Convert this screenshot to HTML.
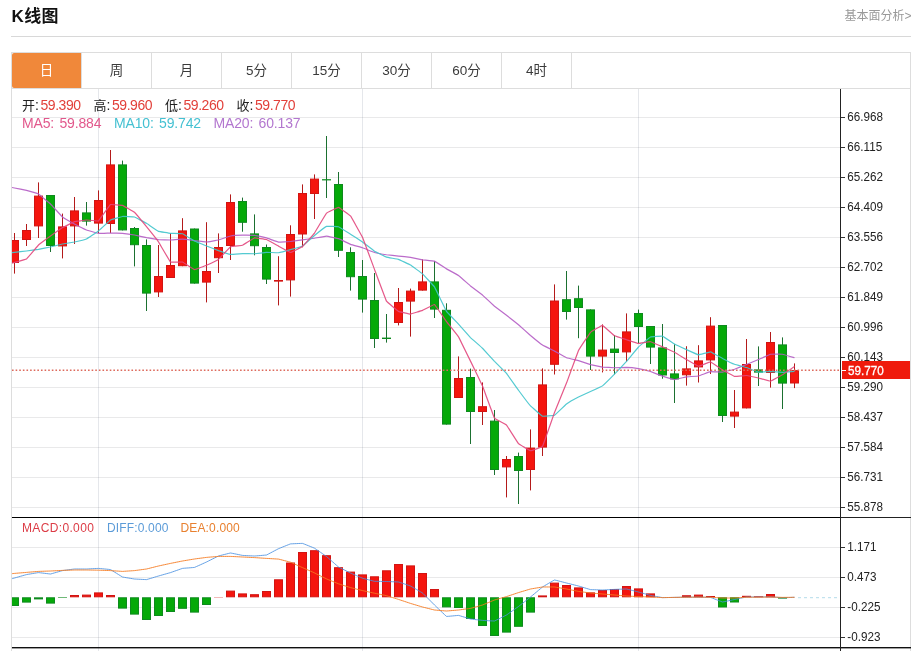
<!DOCTYPE html>
<html lang="zh-CN"><head><meta charset="utf-8"><title>K线图</title>
<style>
html,body{margin:0;padding:0;background:#fff;}
body{width:917px;height:651px;position:relative;overflow:hidden;font-family:"Liberation Sans","Noto Sans CJK SC",sans-serif;color:#333;}
.title{position:absolute;left:11.5px;top:4.5px;font-size:17px;font-weight:bold;color:#111;line-height:24px;letter-spacing:0.4px;}
.more{position:absolute;right:5.5px;top:7.5px;font-size:12px;color:#999;line-height:16px;}
.hr{position:absolute;left:11px;top:36px;width:900px;height:1px;background:#d8d8d8;}
.box{position:absolute;left:11px;top:52px;width:898px;height:610px;border:1px solid #ddd;border-bottom:none;}
.tabs{position:absolute;left:0;top:0;width:898px;height:35px;border-bottom:1px solid #ddd;}
.tab{position:absolute;top:0;width:69px;height:35px;border-right:1px solid #ddd;text-align:center;line-height:36px;font-size:13.5px;color:#3a3a3a;}
.tab.on{background:#f0883a;color:#fff;border-radius:2px 0 0 2px;}
.t{position:absolute;white-space:nowrap;}
.r1{top:96px;font-size:14px;line-height:18px;color:#222;}
.r1 b{font-weight:normal;color:#e2403a;letter-spacing:-0.45px;margin-left:1.6px;}
.r1 i{font-style:normal;font-size:13px;}
.r2{top:114px;font-size:14px;line-height:18px;letter-spacing:-0.15px;word-spacing:1.6px;}
.r3{top:520px;font-size:12px;line-height:16px;letter-spacing:0.35px;}
</style></head><body>
<div class="title">K线图</div>
<div class="more">基本面分析&gt;</div>
<div class="hr"></div>
<div class="box"><div class="tabs">
<div class="tab on" style="left:0">日</div><div class="tab" style="left:70px">周</div><div class="tab" style="left:140px">月</div><div class="tab" style="left:210px">5分</div><div class="tab" style="left:280px">15分</div><div class="tab" style="left:350px">30分</div><div class="tab" style="left:420px">60分</div><div class="tab" style="left:490px">4时</div>
</div></div>
<svg width="917" height="651" viewBox="0 0 917 651" style="position:absolute;left:0;top:0">
<defs><clipPath id="cp"><rect x="12" y="89" width="828" height="558"/></clipPath></defs>
<rect x="12" y="117" width="828" height="1" fill="#58585c" fill-opacity="0.13"/><rect x="12" y="147" width="828" height="1" fill="#58585c" fill-opacity="0.13"/><rect x="12" y="177" width="828" height="1" fill="#58585c" fill-opacity="0.13"/><rect x="12" y="207" width="828" height="1" fill="#58585c" fill-opacity="0.13"/><rect x="12" y="237" width="828" height="1" fill="#58585c" fill-opacity="0.13"/><rect x="12" y="267" width="828" height="1" fill="#58585c" fill-opacity="0.13"/><rect x="12" y="297" width="828" height="1" fill="#58585c" fill-opacity="0.13"/><rect x="12" y="327" width="828" height="1" fill="#58585c" fill-opacity="0.13"/><rect x="12" y="357" width="828" height="1" fill="#58585c" fill-opacity="0.13"/><rect x="12" y="387" width="828" height="1" fill="#58585c" fill-opacity="0.13"/><rect x="12" y="417" width="828" height="1" fill="#58585c" fill-opacity="0.13"/><rect x="12" y="447" width="828" height="1" fill="#58585c" fill-opacity="0.13"/><rect x="12" y="477" width="828" height="1" fill="#58585c" fill-opacity="0.13"/><rect x="12" y="507" width="828" height="1" fill="#58585c" fill-opacity="0.13"/><rect x="12" y="547" width="828" height="1" fill="#58585c" fill-opacity="0.13"/><rect x="12" y="577" width="828" height="1" fill="#58585c" fill-opacity="0.13"/><rect x="12" y="607" width="828" height="1" fill="#58585c" fill-opacity="0.13"/><rect x="12" y="637" width="828" height="1" fill="#58585c" fill-opacity="0.13"/><rect x="98" y="89" width="1" height="562" fill="#4a5570" fill-opacity="0.14"/><rect x="362" y="89" width="1" height="562" fill="#4a5570" fill-opacity="0.14"/><rect x="638" y="89" width="1" height="562" fill="#4a5570" fill-opacity="0.14"/>
<g clip-path="url(#cp)"><rect x="14" y="233.0" width="1" height="40.6" fill="#b41a1a"/><rect x="10.5" y="240.5" width="8" height="22.0" fill="#f4150e" stroke="#d21412" stroke-width="1"/><rect x="26" y="224.0" width="1" height="22.0" fill="#b41a1a"/><rect x="22.5" y="230.5" width="8" height="9.0" fill="#f4150e" stroke="#d21412" stroke-width="1"/><rect x="38" y="182.4" width="1" height="55.6" fill="#b41a1a"/><rect x="34.5" y="196.1" width="8" height="29.8" fill="#f4150e" stroke="#d21412" stroke-width="1"/><rect x="50" y="195.0" width="1" height="57.0" fill="#1b7030"/><rect x="46.5" y="195.5" width="8" height="50.0" fill="#05a909" stroke="#0e8a1e" stroke-width="1"/><rect x="62" y="213.6" width="1" height="44.8" fill="#b41a1a"/><rect x="58.5" y="226.9" width="8" height="19.0" fill="#f4150e" stroke="#d21412" stroke-width="1"/><rect x="74" y="197.0" width="1" height="47.0" fill="#b41a1a"/><rect x="70.5" y="210.9" width="8" height="15.0" fill="#f4150e" stroke="#d21412" stroke-width="1"/><rect x="86" y="202.0" width="1" height="23.6" fill="#1b7030"/><rect x="82.5" y="212.9" width="8" height="8.2" fill="#05a909" stroke="#0e8a1e" stroke-width="1"/><rect x="98" y="190.4" width="1" height="42.6" fill="#b41a1a"/><rect x="94.5" y="200.5" width="8" height="22.6" fill="#f4150e" stroke="#d21412" stroke-width="1"/><rect x="110" y="150.0" width="1" height="83.0" fill="#b41a1a"/><rect x="106.5" y="164.9" width="8" height="58.6" fill="#f4150e" stroke="#d21412" stroke-width="1"/><rect x="122" y="160.6" width="1" height="69.8" fill="#1b7030"/><rect x="118.5" y="164.9" width="8" height="65.0" fill="#05a909" stroke="#0e8a1e" stroke-width="1"/><rect x="134" y="227.0" width="1" height="39.4" fill="#1b7030"/><rect x="130.5" y="228.5" width="8" height="16.2" fill="#05a909" stroke="#0e8a1e" stroke-width="1"/><rect x="146" y="239.4" width="1" height="71.6" fill="#1b7030"/><rect x="142.5" y="245.5" width="8" height="47.6" fill="#05a909" stroke="#0e8a1e" stroke-width="1"/><rect x="158" y="245.0" width="1" height="52.0" fill="#b41a1a"/><rect x="154.5" y="276.5" width="8" height="15.4" fill="#f4150e" stroke="#d21412" stroke-width="1"/><rect x="170" y="233.0" width="1" height="45.0" fill="#b41a1a"/><rect x="166.5" y="265.5" width="8" height="12.0" fill="#f4150e" stroke="#d21412" stroke-width="1"/><rect x="182" y="218.2" width="1" height="48.0" fill="#b41a1a"/><rect x="178.5" y="230.9" width="8" height="34.8" fill="#f4150e" stroke="#d21412" stroke-width="1"/><rect x="194" y="228.5" width="1" height="55.1" fill="#1b7030"/><rect x="190.5" y="229.0" width="8" height="54.1" fill="#05a909" stroke="#0e8a1e" stroke-width="1"/><rect x="206" y="222.2" width="1" height="80.2" fill="#b41a1a"/><rect x="202.5" y="271.5" width="8" height="10.6" fill="#f4150e" stroke="#d21412" stroke-width="1"/><rect x="218" y="233.4" width="1" height="39.6" fill="#b41a1a"/><rect x="214.5" y="247.5" width="8" height="10.2" fill="#f4150e" stroke="#d21412" stroke-width="1"/><rect x="230" y="194.4" width="1" height="65.6" fill="#b41a1a"/><rect x="226.5" y="202.5" width="8" height="43.0" fill="#f4150e" stroke="#d21412" stroke-width="1"/><rect x="242" y="197.6" width="1" height="34.1" fill="#1b7030"/><rect x="238.5" y="201.5" width="8" height="20.8" fill="#05a909" stroke="#0e8a1e" stroke-width="1"/><rect x="254" y="214.4" width="1" height="40.9" fill="#1b7030"/><rect x="250.5" y="233.9" width="8" height="11.8" fill="#05a909" stroke="#0e8a1e" stroke-width="1"/><rect x="266" y="244.5" width="1" height="39.5" fill="#1b7030"/><rect x="262.5" y="247.5" width="8" height="31.6" fill="#05a909" stroke="#0e8a1e" stroke-width="1"/><rect x="278" y="256.2" width="1" height="49.2" fill="#b41a1a"/><rect x="274.5" y="280.5" width="8" height="0.6" fill="#f4150e" stroke="#d21412" stroke-width="1"/><rect x="290" y="225.3" width="1" height="71.3" fill="#b41a1a"/><rect x="286.5" y="234.5" width="8" height="45.4" fill="#f4150e" stroke="#d21412" stroke-width="1"/><rect x="302" y="184.4" width="1" height="62.9" fill="#b41a1a"/><rect x="298.5" y="193.5" width="8" height="40.5" fill="#f4150e" stroke="#d21412" stroke-width="1"/><rect x="314" y="174.4" width="1" height="44.6" fill="#b41a1a"/><rect x="310.5" y="179.1" width="8" height="14.4" fill="#f4150e" stroke="#d21412" stroke-width="1"/><rect x="326" y="136.0" width="1" height="62.0" fill="#1b7030"/><rect x="322.5" y="179.7" width="8" height="0.2" fill="#05a909" stroke="#0e8a1e" stroke-width="1"/><rect x="338" y="172.0" width="1" height="85.0" fill="#1b7030"/><rect x="334.5" y="184.5" width="8" height="65.8" fill="#05a909" stroke="#0e8a1e" stroke-width="1"/><rect x="350" y="247.3" width="1" height="43.3" fill="#1b7030"/><rect x="346.5" y="252.5" width="8" height="24.2" fill="#05a909" stroke="#0e8a1e" stroke-width="1"/><rect x="362" y="260.0" width="1" height="52.6" fill="#1b7030"/><rect x="358.5" y="276.5" width="8" height="22.6" fill="#05a909" stroke="#0e8a1e" stroke-width="1"/><rect x="374" y="273.0" width="1" height="75.0" fill="#1b7030"/><rect x="370.5" y="300.5" width="8" height="38.0" fill="#05a909" stroke="#0e8a1e" stroke-width="1"/><rect x="386" y="314.0" width="1" height="28.6" fill="#1b7030"/><rect x="382.5" y="338.1" width="8" height="0.4" fill="#05a909" stroke="#0e8a1e" stroke-width="1"/><rect x="398" y="288.0" width="1" height="37.4" fill="#b41a1a"/><rect x="394.5" y="302.5" width="8" height="20.0" fill="#f4150e" stroke="#d21412" stroke-width="1"/><rect x="410" y="288.6" width="1" height="48.0" fill="#b41a1a"/><rect x="406.5" y="291.1" width="8" height="10.0" fill="#f4150e" stroke="#d21412" stroke-width="1"/><rect x="422" y="259.4" width="1" height="31.2" fill="#b41a1a"/><rect x="418.5" y="281.9" width="8" height="8.2" fill="#f4150e" stroke="#d21412" stroke-width="1"/><rect x="434" y="261.0" width="1" height="57.0" fill="#1b7030"/><rect x="430.5" y="281.9" width="8" height="27.2" fill="#05a909" stroke="#0e8a1e" stroke-width="1"/><rect x="446" y="303.3" width="1" height="121.3" fill="#1b7030"/><rect x="442.5" y="310.3" width="8" height="113.8" fill="#05a909" stroke="#0e8a1e" stroke-width="1"/><rect x="458" y="356.4" width="1" height="41.6" fill="#b41a1a"/><rect x="454.5" y="378.5" width="8" height="19.0" fill="#f4150e" stroke="#d21412" stroke-width="1"/><rect x="470" y="368.6" width="1" height="75.4" fill="#1b7030"/><rect x="466.5" y="377.5" width="8" height="34.0" fill="#05a909" stroke="#0e8a1e" stroke-width="1"/><rect x="482" y="382.4" width="1" height="42.6" fill="#b41a1a"/><rect x="478.5" y="406.7" width="8" height="4.8" fill="#f4150e" stroke="#d21412" stroke-width="1"/><rect x="494" y="410.0" width="1" height="65.0" fill="#1b7030"/><rect x="490.5" y="421.1" width="8" height="48.4" fill="#05a909" stroke="#0e8a1e" stroke-width="1"/><rect x="506" y="456.0" width="1" height="41.4" fill="#b41a1a"/><rect x="502.5" y="459.5" width="8" height="7.4" fill="#f4150e" stroke="#d21412" stroke-width="1"/><rect x="518" y="452.6" width="1" height="51.4" fill="#1b7030"/><rect x="514.5" y="456.5" width="8" height="14.0" fill="#05a909" stroke="#0e8a1e" stroke-width="1"/><rect x="530" y="429.4" width="1" height="61.0" fill="#b41a1a"/><rect x="526.5" y="448.1" width="8" height="21.4" fill="#f4150e" stroke="#d21412" stroke-width="1"/><rect x="542" y="368.4" width="1" height="87.6" fill="#b41a1a"/><rect x="538.5" y="384.9" width="8" height="62.2" fill="#f4150e" stroke="#d21412" stroke-width="1"/><rect x="554" y="284.4" width="1" height="90.1" fill="#b41a1a"/><rect x="550.5" y="301.0" width="8" height="63.3" fill="#f4150e" stroke="#d21412" stroke-width="1"/><rect x="566" y="271.0" width="1" height="48.6" fill="#1b7030"/><rect x="562.5" y="299.7" width="8" height="11.8" fill="#05a909" stroke="#0e8a1e" stroke-width="1"/><rect x="578" y="285.6" width="1" height="52.6" fill="#1b7030"/><rect x="574.5" y="298.7" width="8" height="8.8" fill="#05a909" stroke="#0e8a1e" stroke-width="1"/><rect x="590" y="309.4" width="1" height="60.6" fill="#1b7030"/><rect x="586.5" y="309.9" width="8" height="46.2" fill="#05a909" stroke="#0e8a1e" stroke-width="1"/><rect x="602" y="324.4" width="1" height="48.0" fill="#b41a1a"/><rect x="598.5" y="350.1" width="8" height="6.0" fill="#f4150e" stroke="#d21412" stroke-width="1"/><rect x="614" y="335.0" width="1" height="39.4" fill="#1b7030"/><rect x="610.5" y="349.1" width="8" height="3.4" fill="#05a909" stroke="#0e8a1e" stroke-width="1"/><rect x="626" y="313.4" width="1" height="48.2" fill="#b41a1a"/><rect x="622.5" y="331.9" width="8" height="20.0" fill="#f4150e" stroke="#d21412" stroke-width="1"/><rect x="638" y="309.6" width="1" height="34.0" fill="#1b7030"/><rect x="634.5" y="313.5" width="8" height="13.0" fill="#05a909" stroke="#0e8a1e" stroke-width="1"/><rect x="650" y="326.0" width="1" height="38.0" fill="#1b7030"/><rect x="646.5" y="326.5" width="8" height="20.6" fill="#05a909" stroke="#0e8a1e" stroke-width="1"/><rect x="662" y="324.0" width="1" height="54.7" fill="#1b7030"/><rect x="658.5" y="347.9" width="8" height="27.1" fill="#05a909" stroke="#0e8a1e" stroke-width="1"/><rect x="674" y="344.2" width="1" height="58.8" fill="#1b7030"/><rect x="670.5" y="373.9" width="8" height="5.0" fill="#05a909" stroke="#0e8a1e" stroke-width="1"/><rect x="686" y="346.2" width="1" height="39.4" fill="#b41a1a"/><rect x="682.5" y="368.9" width="8" height="5.9" fill="#f4150e" stroke="#d21412" stroke-width="1"/><rect x="698" y="345.2" width="1" height="37.3" fill="#b41a1a"/><rect x="694.5" y="360.9" width="8" height="6.0" fill="#f4150e" stroke="#d21412" stroke-width="1"/><rect x="710" y="317.2" width="1" height="56.8" fill="#b41a1a"/><rect x="706.5" y="326.1" width="8" height="33.8" fill="#f4150e" stroke="#d21412" stroke-width="1"/><rect x="722" y="325.0" width="1" height="97.0" fill="#1b7030"/><rect x="718.5" y="325.5" width="8" height="90.0" fill="#05a909" stroke="#0e8a1e" stroke-width="1"/><rect x="734" y="390.0" width="1" height="38.0" fill="#b41a1a"/><rect x="730.5" y="412.1" width="8" height="4.0" fill="#f4150e" stroke="#d21412" stroke-width="1"/><rect x="746" y="339.0" width="1" height="69.4" fill="#b41a1a"/><rect x="742.5" y="364.5" width="8" height="43.4" fill="#f4150e" stroke="#d21412" stroke-width="1"/><rect x="758" y="346.4" width="1" height="39.6" fill="#1b7030"/><rect x="754.5" y="369.9" width="8" height="2.2" fill="#05a909" stroke="#0e8a1e" stroke-width="1"/><rect x="770" y="332.0" width="1" height="55.6" fill="#b41a1a"/><rect x="766.5" y="342.5" width="8" height="30.0" fill="#f4150e" stroke="#d21412" stroke-width="1"/><rect x="782" y="337.4" width="1" height="71.6" fill="#1b7030"/><rect x="778.5" y="344.9" width="8" height="38.2" fill="#05a909" stroke="#0e8a1e" stroke-width="1"/><rect x="794" y="363.4" width="1" height="24.7" fill="#b41a1a"/><rect x="790.5" y="370.6" width="8" height="12.4" fill="#f4150e" stroke="#d21412" stroke-width="1"/></g>
<g clip-path="url(#cp)">
<path d="M2.50,185.60C2.74,185.65 14.02,187.90 14.50,188.00C14.98,188.10 26.02,190.28 26.50,190.40C26.98,190.52 38.02,193.73 38.50,194.00C38.98,194.27 50.02,203.54 50.50,204.00C50.98,204.46 62.02,216.60 62.50,217.00C62.98,217.40 74.02,223.74 74.50,224.00C74.98,224.26 86.02,229.81 86.50,230.00C86.98,230.19 98.02,233.34 98.50,233.40C98.98,233.46 110.02,233.00 110.50,233.00C110.98,233.00 122.02,233.36 122.50,233.40C122.98,233.44 134.02,234.92 134.50,235.00C134.98,235.08 146.02,237.51 146.50,237.60C146.98,237.69 158.02,239.55 158.50,239.60C158.98,239.65 170.02,240.01 170.50,240.00C170.98,239.99 182.02,239.19 182.50,239.20C182.98,239.21 194.02,240.54 194.50,240.60C194.98,240.66 206.02,242.01 206.50,242.00C206.98,241.99 218.02,240.12 218.50,240.00C218.98,239.88 230.02,236.10 230.50,236.00C230.98,235.90 242.02,235.08 242.50,235.07C242.98,235.06 254.02,235.32 254.50,235.38C254.98,235.44 266.02,237.73 266.50,237.86C266.98,237.99 278.02,242.01 278.50,242.08C278.98,242.15 290.02,241.53 290.50,241.48C290.98,241.43 302.02,239.88 302.50,239.81C302.98,239.74 314.02,238.29 314.50,238.22C314.98,238.15 326.02,236.14 326.50,236.15C326.98,236.16 338.02,238.53 338.50,238.69C338.98,238.85 350.02,244.15 350.50,244.33C350.98,244.51 362.02,247.63 362.50,247.79C362.98,247.95 374.02,252.34 374.50,252.48C374.98,252.62 386.02,254.68 386.50,254.75C386.98,254.82 398.02,256.00 398.50,256.05C398.98,256.10 410.02,257.25 410.50,257.33C410.98,257.41 422.02,259.80 422.50,259.88C422.98,259.96 434.02,261.00 434.50,261.18C434.98,261.36 446.02,268.58 446.50,268.86C446.98,269.14 458.02,275.07 458.50,275.41C458.98,275.75 470.02,285.52 470.50,285.91C470.98,286.30 482.02,294.67 482.50,295.08C482.98,295.49 494.02,305.87 494.50,306.27C494.98,306.67 506.02,314.87 506.50,315.24C506.98,315.61 518.02,324.39 518.50,324.79C518.98,325.19 530.02,335.06 530.50,335.47C530.98,335.87 542.02,344.73 542.50,345.04C542.98,345.35 554.02,350.88 554.50,351.13C554.98,351.39 566.02,357.54 566.50,357.73C566.98,357.91 578.02,360.45 578.50,360.58C578.98,360.72 590.02,364.43 590.50,364.56C590.98,364.68 602.02,366.99 602.50,367.06C602.98,367.12 614.02,367.75 614.50,367.75C614.98,367.76 626.02,367.36 626.50,367.38C626.98,367.39 638.02,368.54 638.50,368.62C638.98,368.71 650.02,371.32 650.50,371.48C650.98,371.63 662.02,376.02 662.50,376.18C662.98,376.34 674.02,379.66 674.50,379.67C674.98,379.68 686.02,376.93 686.50,376.86C686.98,376.79 698.02,376.08 698.50,375.98C698.98,375.88 710.02,371.74 710.50,371.66C710.98,371.58 722.02,372.20 722.50,372.15C722.98,372.10 734.02,369.38 734.50,369.23C734.98,369.08 746.02,364.67 746.50,364.48C746.98,364.29 758.02,359.76 758.50,359.56C758.98,359.36 770.02,354.39 770.50,354.28C770.98,354.17 782.02,354.17 782.50,354.24C782.98,354.31 794.26,357.65 794.50,357.72" fill="none" stroke="#b45cc4" stroke-width="1.2" stroke-opacity="0.9" stroke-linejoin="round"/>
<path d="M2.50,253.80C2.74,253.77 14.02,252.46 14.50,252.40C14.98,252.34 26.02,251.06 26.50,251.00C26.98,250.94 38.02,249.48 38.50,249.40C38.98,249.32 50.02,247.11 50.50,247.00C50.98,246.89 62.02,244.10 62.50,244.00C62.98,243.90 74.02,242.10 74.50,242.00C74.98,241.90 86.02,239.22 86.50,239.00C86.98,238.78 98.02,231.38 98.50,231.00C98.98,230.62 110.02,220.29 110.50,220.00C110.98,219.71 122.02,216.54 122.50,216.48C122.98,216.42 134.02,216.86 134.50,217.00C134.98,217.14 146.02,223.07 146.50,223.36C146.98,223.65 158.02,231.20 158.50,231.40C158.98,231.60 170.02,233.25 170.50,233.30C170.98,233.35 182.02,233.55 182.50,233.70C182.98,233.85 194.02,240.77 194.50,241.02C194.98,241.27 206.02,245.77 206.50,245.96C206.98,246.15 218.02,250.49 218.50,250.66C218.98,250.83 230.02,254.36 230.50,254.42C230.98,254.48 242.02,253.67 242.50,253.66C242.98,253.65 254.02,253.79 254.50,253.76C254.98,253.73 266.02,252.38 266.50,252.36C266.98,252.34 278.02,252.81 278.50,252.76C278.98,252.71 290.02,249.80 290.50,249.66C290.98,249.52 302.02,246.20 302.50,245.92C302.98,245.64 314.02,235.81 314.50,235.42C314.98,235.03 326.02,226.51 326.50,226.34C326.98,226.17 338.02,226.56 338.50,226.72C338.98,226.88 350.02,233.94 350.50,234.24C350.98,234.54 362.02,241.58 362.50,241.92C362.98,242.26 374.02,250.90 374.50,251.20C374.98,251.50 386.02,256.98 386.50,257.14C386.98,257.30 398.02,259.18 398.50,259.34C398.98,259.50 410.02,264.71 410.50,265.00C410.98,265.29 422.02,273.40 422.50,273.84C422.98,274.28 434.02,286.19 434.50,286.94C434.98,287.69 446.02,310.64 446.50,311.38C446.98,312.12 458.02,323.58 458.50,324.10C458.98,324.62 470.02,337.10 470.50,337.58C470.98,338.06 482.02,347.76 482.50,348.24C482.98,348.72 494.02,360.84 494.50,361.34C494.98,361.84 506.02,372.76 506.50,373.34C506.98,373.92 518.02,389.59 518.50,390.24C518.98,390.89 530.02,405.42 530.50,405.94C530.98,406.46 542.02,416.05 542.50,416.24C542.98,416.43 554.02,415.57 554.50,415.33C554.98,415.09 566.02,404.44 566.50,404.07C566.98,403.70 578.02,397.32 578.50,397.07C578.98,396.82 590.02,391.75 590.50,391.53C590.98,391.31 602.02,386.22 602.50,385.87C602.98,385.52 614.02,374.66 614.50,374.17C614.98,373.68 626.02,361.95 626.50,361.41C626.98,360.87 638.02,347.50 638.50,347.01C638.98,346.52 650.02,337.23 650.50,337.01C650.98,336.79 662.02,335.98 662.50,336.12C662.98,336.26 674.02,343.74 674.50,344.01C674.98,344.28 686.02,349.43 686.50,349.65C686.98,349.87 698.02,354.85 698.50,354.89C698.98,354.93 710.02,351.72 710.50,351.79C710.98,351.86 722.02,358.18 722.50,358.43C722.98,358.68 734.02,364.11 734.50,364.29C734.98,364.47 746.02,367.39 746.50,367.55C746.98,367.71 758.02,372.03 758.50,372.11C758.98,372.19 770.02,371.55 770.50,371.55C770.98,371.56 782.02,372.36 782.50,372.36C782.98,372.36 794.26,371.45 794.50,371.43" fill="none" stroke="#40c4cc" stroke-width="1.2" stroke-opacity="0.9" stroke-linejoin="round"/>
<path d="M2.50,265.80C2.74,265.73 14.02,262.54 14.50,262.40C14.98,262.26 26.02,259.35 26.50,259.00C26.98,258.65 38.02,245.46 38.50,245.00C38.98,244.54 50.02,236.35 50.50,236.00C50.98,235.65 62.02,227.89 62.50,227.60C62.98,227.31 74.02,221.83 74.50,221.68C74.98,221.53 86.02,220.02 86.50,220.00C86.98,219.98 98.02,221.19 98.50,220.88C98.98,220.57 110.02,204.87 110.50,204.56C110.98,204.25 122.02,205.20 122.50,205.36C122.98,205.52 134.02,211.89 134.50,212.32C134.98,212.75 146.02,226.13 146.50,226.72C146.98,227.31 158.02,241.21 158.50,241.92C158.98,242.63 170.02,261.64 170.50,262.04C170.98,262.44 182.02,261.89 182.50,262.04C182.98,262.19 194.02,269.66 194.50,269.72C194.98,269.78 206.02,265.41 206.50,265.20C206.98,264.99 218.02,259.77 218.50,259.40C218.98,259.03 230.02,247.08 230.50,246.80C230.98,246.52 242.02,245.46 242.50,245.28C242.98,245.10 254.02,237.92 254.50,237.80C254.98,237.68 266.02,239.35 266.50,239.52C266.98,239.69 278.02,245.86 278.50,246.12C278.98,246.38 290.02,252.51 290.50,252.52C290.98,252.53 302.02,246.95 302.50,246.56C302.98,246.17 314.02,233.71 314.50,233.04C314.98,232.37 326.02,213.67 326.50,213.16C326.98,212.65 338.02,207.26 338.50,207.32C338.98,207.38 350.02,215.36 350.50,215.96C350.98,216.56 362.02,236.21 362.50,237.28C362.98,238.35 374.02,268.08 374.50,269.36C374.98,270.64 386.02,300.28 386.50,301.12C386.98,301.96 398.02,311.10 398.50,311.36C398.98,311.62 410.02,314.06 410.50,314.04C410.98,314.02 422.02,310.59 422.50,310.40C422.98,310.21 434.02,304.30 434.50,304.52C434.98,304.74 446.02,320.99 446.50,321.64C446.98,322.29 458.02,336.05 458.50,336.84C458.98,337.63 470.02,360.14 470.50,361.12C470.98,362.10 482.02,384.94 482.50,386.08C482.98,387.22 494.02,417.38 494.50,418.16C494.98,418.94 506.02,424.53 506.50,425.04C506.98,425.55 518.02,443.13 518.50,443.64C518.98,444.15 530.02,450.70 530.50,450.76C530.98,450.82 542.02,447.17 542.50,446.40C542.98,445.63 554.02,413.77 554.50,412.50C554.98,411.23 566.02,384.34 566.50,383.10C566.98,381.86 578.02,351.52 578.50,350.50C578.98,349.48 590.02,332.80 590.50,332.30C590.98,331.80 602.02,325.27 602.50,325.34C602.98,325.41 614.02,335.55 614.50,335.84C614.98,336.13 626.02,339.57 626.50,339.72C626.98,339.87 638.02,343.48 638.50,343.52C638.98,343.56 650.02,341.65 650.50,341.72C650.98,341.79 662.02,346.69 662.50,346.90C662.98,347.11 674.02,351.93 674.50,352.18C674.98,352.43 686.02,359.30 686.50,359.58C686.98,359.86 698.02,366.21 698.50,366.26C698.98,366.31 710.02,361.79 710.50,361.86C710.98,361.93 722.02,369.67 722.50,369.96C722.98,370.25 734.02,376.29 734.50,376.40C734.98,376.51 746.02,375.49 746.50,375.52C746.98,375.55 758.02,377.85 758.50,377.96C758.98,378.07 770.02,381.30 770.50,381.24C770.98,381.18 782.02,375.06 782.50,374.76C782.98,374.46 794.26,366.63 794.50,366.46" fill="none" stroke="#e2467c" stroke-width="1.2" stroke-opacity="0.9" stroke-linejoin="round"/>
</g>
<line x1="12" y1="370.3" x2="840" y2="370.3" stroke="#dd6a5c" stroke-width="1.6" stroke-dasharray="1.6 2.02"/>
<g clip-path="url(#cp)"><rect x="10.5" y="597.8" width="8" height="7.7" fill="#05a909" stroke="#0e8a1e" stroke-width="1"/><rect x="22.5" y="597.8" width="8" height="4.3" fill="#05a909" stroke="#0e8a1e" stroke-width="1"/><rect x="34" y="597.3" width="9" height="2.1" fill="#0e8a1e"/><rect x="46.5" y="597.8" width="8" height="5.3" fill="#05a909" stroke="#0e8a1e" stroke-width="1"/><rect x="58" y="597.3" width="9" height="0.6" fill="#0e8a1e"/><rect x="70.5" y="595.5" width="8" height="1.3" fill="#f4150e" stroke="#d21412" stroke-width="1"/><rect x="82.5" y="595.1" width="8" height="1.7" fill="#f4150e" stroke="#d21412" stroke-width="1"/><rect x="94.5" y="592.9" width="8" height="3.9" fill="#f4150e" stroke="#d21412" stroke-width="1"/><rect x="106.5" y="595.5" width="8" height="1.3" fill="#f4150e" stroke="#d21412" stroke-width="1"/><rect x="118.5" y="597.8" width="8" height="10.3" fill="#05a909" stroke="#0e8a1e" stroke-width="1"/><rect x="130.5" y="597.8" width="8" height="16.3" fill="#05a909" stroke="#0e8a1e" stroke-width="1"/><rect x="142.5" y="597.8" width="8" height="21.7" fill="#05a909" stroke="#0e8a1e" stroke-width="1"/><rect x="154.5" y="597.8" width="8" height="17.7" fill="#05a909" stroke="#0e8a1e" stroke-width="1"/><rect x="166.5" y="597.8" width="8" height="13.7" fill="#05a909" stroke="#0e8a1e" stroke-width="1"/><rect x="178.5" y="597.8" width="8" height="10.5" fill="#05a909" stroke="#0e8a1e" stroke-width="1"/><rect x="190.5" y="597.8" width="8" height="14.3" fill="#05a909" stroke="#0e8a1e" stroke-width="1"/><rect x="202.5" y="597.8" width="8" height="6.7" fill="#05a909" stroke="#0e8a1e" stroke-width="1"/><rect x="214" y="597.0" width="9" height="0.3" fill="#d21412"/><rect x="226.5" y="591.1" width="8" height="5.7" fill="#f4150e" stroke="#d21412" stroke-width="1"/><rect x="238.5" y="593.9" width="8" height="2.9" fill="#f4150e" stroke="#d21412" stroke-width="1"/><rect x="250.5" y="594.7" width="8" height="2.1" fill="#f4150e" stroke="#d21412" stroke-width="1"/><rect x="262.5" y="591.5" width="8" height="5.3" fill="#f4150e" stroke="#d21412" stroke-width="1"/><rect x="274.5" y="579.8" width="8" height="17.0" fill="#f4150e" stroke="#d21412" stroke-width="1"/><rect x="286.5" y="563.0" width="8" height="33.8" fill="#f4150e" stroke="#d21412" stroke-width="1"/><rect x="298.5" y="552.5" width="8" height="44.3" fill="#f4150e" stroke="#d21412" stroke-width="1"/><rect x="310.5" y="550.7" width="8" height="46.1" fill="#f4150e" stroke="#d21412" stroke-width="1"/><rect x="322.5" y="555.7" width="8" height="41.1" fill="#f4150e" stroke="#d21412" stroke-width="1"/><rect x="334.5" y="567.7" width="8" height="29.1" fill="#f4150e" stroke="#d21412" stroke-width="1"/><rect x="346.5" y="572.1" width="8" height="24.7" fill="#f4150e" stroke="#d21412" stroke-width="1"/><rect x="358.5" y="574.9" width="8" height="21.9" fill="#f4150e" stroke="#d21412" stroke-width="1"/><rect x="370.5" y="576.8" width="8" height="20.0" fill="#f4150e" stroke="#d21412" stroke-width="1"/><rect x="382.5" y="570.8" width="8" height="26.0" fill="#f4150e" stroke="#d21412" stroke-width="1"/><rect x="394.5" y="564.5" width="8" height="32.3" fill="#f4150e" stroke="#d21412" stroke-width="1"/><rect x="406.5" y="565.9" width="8" height="30.9" fill="#f4150e" stroke="#d21412" stroke-width="1"/><rect x="418.5" y="573.5" width="8" height="23.3" fill="#f4150e" stroke="#d21412" stroke-width="1"/><rect x="430.5" y="589.5" width="8" height="7.3" fill="#f4150e" stroke="#d21412" stroke-width="1"/><rect x="442.5" y="597.8" width="8" height="9.1" fill="#05a909" stroke="#0e8a1e" stroke-width="1"/><rect x="454.5" y="597.8" width="8" height="9.7" fill="#05a909" stroke="#0e8a1e" stroke-width="1"/><rect x="466.5" y="597.8" width="8" height="20.7" fill="#05a909" stroke="#0e8a1e" stroke-width="1"/><rect x="478.5" y="597.8" width="8" height="27.7" fill="#05a909" stroke="#0e8a1e" stroke-width="1"/><rect x="490.5" y="597.8" width="8" height="37.7" fill="#05a909" stroke="#0e8a1e" stroke-width="1"/><rect x="502.5" y="597.8" width="8" height="34.3" fill="#05a909" stroke="#0e8a1e" stroke-width="1"/><rect x="514.5" y="597.8" width="8" height="28.5" fill="#05a909" stroke="#0e8a1e" stroke-width="1"/><rect x="526.5" y="597.8" width="8" height="14.3" fill="#05a909" stroke="#0e8a1e" stroke-width="1"/><rect x="538" y="595.4" width="9" height="1.9" fill="#d21412"/><rect x="550.5" y="583.1" width="8" height="13.7" fill="#f4150e" stroke="#d21412" stroke-width="1"/><rect x="562.5" y="585.5" width="8" height="11.3" fill="#f4150e" stroke="#d21412" stroke-width="1"/><rect x="574.5" y="587.9" width="8" height="8.9" fill="#f4150e" stroke="#d21412" stroke-width="1"/><rect x="586.5" y="592.9" width="8" height="3.9" fill="#f4150e" stroke="#d21412" stroke-width="1"/><rect x="598.5" y="590.5" width="8" height="6.3" fill="#f4150e" stroke="#d21412" stroke-width="1"/><rect x="610.5" y="589.5" width="8" height="7.3" fill="#f4150e" stroke="#d21412" stroke-width="1"/><rect x="622.5" y="586.5" width="8" height="10.3" fill="#f4150e" stroke="#d21412" stroke-width="1"/><rect x="634.5" y="588.9" width="8" height="7.9" fill="#f4150e" stroke="#d21412" stroke-width="1"/><rect x="646.5" y="593.9" width="8" height="2.9" fill="#f4150e" stroke="#d21412" stroke-width="1"/><rect x="670" y="597.0" width="9" height="0.3" fill="#d21412"/><rect x="682" y="595.2" width="9" height="2.1" fill="#d21412"/><rect x="694.5" y="595.1" width="8" height="1.7" fill="#f4150e" stroke="#d21412" stroke-width="1"/><rect x="706" y="596.0" width="9" height="1.3" fill="#d21412"/><rect x="718.5" y="597.8" width="8" height="9.2" fill="#05a909" stroke="#0e8a1e" stroke-width="1"/><rect x="730.5" y="597.8" width="8" height="4.2" fill="#05a909" stroke="#0e8a1e" stroke-width="1"/><rect x="742" y="595.8" width="9" height="1.5" fill="#d21412"/><rect x="754" y="596.2" width="9" height="1.1" fill="#d21412"/><rect x="766.5" y="594.5" width="8" height="2.3" fill="#f4150e" stroke="#d21412" stroke-width="1"/><rect x="778" y="597.3" width="9" height="1.3" fill="#0e8a1e"/>
<path d="M2.50,581.40C2.66,581.35 14.18,578.09 14.50,578.00C14.82,577.91 26.18,574.67 26.50,574.60C26.82,574.53 38.18,572.61 38.50,572.60C38.82,572.59 50.18,574.03 50.50,574.00C50.82,573.97 62.18,570.67 62.50,570.60C62.82,570.53 74.18,569.02 74.50,569.00C74.82,568.98 86.18,569.01 86.50,569.00C86.82,568.99 98.18,568.39 98.50,568.40C98.82,568.41 110.18,569.49 110.50,569.60C110.82,569.71 122.18,576.87 122.50,577.00C122.82,577.13 134.18,578.97 134.50,579.00C134.82,579.03 146.18,579.64 146.50,579.60C146.82,579.56 158.18,576.09 158.50,576.00C158.82,575.91 170.18,572.70 170.50,572.60C170.82,572.50 182.18,568.47 182.50,568.40C182.82,568.33 194.18,567.49 194.50,567.40C194.82,567.31 206.18,562.15 206.50,562.00C206.82,561.85 218.18,556.12 218.50,556.00C218.82,555.88 230.18,553.01 230.50,553.00C230.82,552.99 242.18,555.36 242.50,555.40C242.82,555.44 254.18,556.01 254.50,556.00C254.82,555.99 266.18,555.10 266.50,555.00C266.82,554.90 278.18,548.85 278.50,548.70C278.82,548.55 290.18,543.97 290.50,543.90C290.82,543.83 302.18,543.34 302.50,543.40C302.82,543.46 314.18,548.03 314.50,548.20C314.82,548.37 326.18,556.25 326.50,556.50C326.82,556.75 338.18,566.78 338.50,567.00C338.82,567.22 350.18,572.85 350.50,573.00C350.82,573.15 362.18,578.09 362.50,578.20C362.82,578.31 374.18,581.26 374.50,581.30C374.82,581.34 386.18,581.49 386.50,581.50C386.82,581.51 398.18,581.94 398.50,582.00C398.82,582.06 410.18,585.85 410.50,586.00C410.82,586.15 422.18,592.75 422.50,593.00C422.82,593.25 434.18,604.69 434.50,605.00C434.82,605.31 446.18,616.26 446.50,616.40C446.82,616.54 458.18,615.37 458.50,615.40C458.82,615.43 470.18,618.93 470.50,619.00C470.82,619.07 482.18,620.37 482.50,620.40C482.82,620.43 494.18,621.07 494.50,621.00C494.82,620.93 506.18,615.19 506.50,615.00C506.82,614.81 518.18,606.74 518.50,606.50C518.82,606.26 530.18,597.26 530.50,597.00C530.82,596.74 542.18,587.23 542.50,587.00C542.82,586.77 554.18,580.05 554.50,580.00C554.82,579.95 566.18,582.92 566.50,583.00C566.82,583.08 578.18,585.91 578.50,586.00C578.82,586.09 590.18,589.55 590.50,589.60C590.82,589.65 602.18,590.00 602.50,590.00C602.82,590.00 614.18,589.41 614.50,589.40C614.82,589.39 626.18,588.97 626.50,589.00C626.82,589.03 638.18,591.91 638.50,592.00C638.82,592.09 650.18,595.33 650.50,595.40C650.82,595.47 662.18,597.57 662.50,597.60C662.82,597.63 674.18,597.41 674.50,597.40C674.82,597.39 686.18,597.20 686.50,597.20C686.82,597.20 698.18,597.20 698.50,597.20C698.82,597.20 710.18,597.34 710.50,597.40C710.82,597.46 722.18,601.97 722.50,602.00C722.82,602.03 734.18,599.57 734.50,599.50C734.82,599.43 746.18,597.03 746.50,597.00C746.82,596.97 758.18,597.00 758.50,597.00C758.82,597.00 770.18,596.79 770.50,596.80C770.82,596.81 782.18,597.79 782.50,597.80C782.82,597.81 794.34,597.31 794.50,597.30" fill="none" stroke="#4a90e0" stroke-width="1.0" stroke-opacity="0.85" stroke-linejoin="round"/>
<path d="M2.50,574.40C2.66,574.39 14.18,573.43 14.50,573.40C14.82,573.37 26.18,572.43 26.50,572.40C26.82,572.37 38.18,571.42 38.50,571.40C38.82,571.38 50.18,571.01 50.50,571.00C50.82,570.99 62.18,570.41 62.50,570.40C62.82,570.39 74.18,570.01 74.50,570.00C74.82,569.99 86.18,570.00 86.50,570.00C86.82,570.00 98.18,570.19 98.50,570.20C98.82,570.21 110.18,570.58 110.50,570.60C110.82,570.62 122.18,571.40 122.50,571.40C122.82,571.40 134.18,570.63 134.50,570.60C134.82,570.57 146.18,569.06 146.50,569.00C146.82,568.94 158.18,566.07 158.50,566.00C158.82,565.93 170.18,563.47 170.50,563.40C170.82,563.33 182.18,561.06 182.50,561.00C182.82,560.94 194.18,559.05 194.50,559.00C194.82,558.95 206.18,557.43 206.50,557.40C206.82,557.37 218.18,556.41 218.50,556.40C218.82,556.39 230.18,556.39 230.50,556.40C230.82,556.41 242.18,556.98 242.50,557.00C242.82,557.02 254.18,557.58 254.50,557.60C254.82,557.62 266.18,558.38 266.50,558.40C266.82,558.42 278.18,559.05 278.50,559.10C278.82,559.15 290.18,562.09 290.50,562.20C290.82,562.31 302.18,567.46 302.50,567.60C302.82,567.74 314.18,572.75 314.50,572.90C314.82,573.05 326.18,578.75 326.50,578.90C326.82,579.05 338.18,583.68 338.50,583.80C338.82,583.92 350.18,587.51 350.50,587.60C350.82,587.69 362.18,590.53 362.50,590.60C362.82,590.67 374.18,593.13 374.50,593.20C374.82,593.27 386.18,595.62 386.50,595.70C386.82,595.78 398.18,599.30 398.50,599.40C398.82,599.50 410.18,603.30 410.50,603.40C410.82,603.50 422.18,606.91 422.50,607.00C422.82,607.09 434.18,609.95 434.50,610.00C434.82,610.05 446.18,611.00 446.50,611.00C446.82,611.00 458.18,610.03 458.50,610.00C458.82,609.97 470.18,608.47 470.50,608.40C470.82,608.33 482.18,605.11 482.50,605.00C482.82,604.89 494.18,600.11 494.50,600.00C494.82,599.89 506.18,596.70 506.50,596.60C506.82,596.50 518.18,592.70 518.50,592.60C518.82,592.50 530.18,589.07 530.50,589.00C530.82,588.93 542.18,587.03 542.50,587.00C542.82,586.97 554.18,586.97 554.50,587.00C554.82,587.03 566.18,588.94 566.50,589.00C566.82,589.06 578.18,591.35 578.50,591.40C578.82,591.45 590.18,592.97 590.50,593.00C590.82,593.03 602.18,593.97 602.50,594.00C602.82,594.03 614.18,594.97 614.50,595.00C614.82,595.03 626.18,595.98 626.50,596.00C626.82,596.02 638.18,596.59 638.50,596.60C638.82,596.61 650.18,596.99 650.50,597.00C650.82,597.01 662.18,597.59 662.50,597.60C662.82,597.61 674.18,597.41 674.50,597.40C674.82,597.39 686.18,597.20 686.50,597.20C686.82,597.20 698.18,597.10 698.50,597.10C698.82,597.10 710.18,597.29 710.50,597.30C710.82,597.31 722.18,597.99 722.50,598.00C722.82,598.01 734.18,598.01 734.50,598.00C734.82,597.99 746.18,597.21 746.50,597.20C746.82,597.19 758.18,597.20 758.50,597.20C758.82,597.20 770.18,597.00 770.50,597.00C770.82,597.00 782.18,597.40 782.50,597.40C782.82,597.40 794.34,597.30 794.50,597.30" fill="none" stroke="#f57a20" stroke-width="1.0" stroke-opacity="0.9" stroke-linejoin="round"/>
</g>
<line x1="798.0" y1="597.7" x2="840" y2="597.7" stroke="#b4dcea" stroke-width="1" stroke-dasharray="3 3"/>
<rect x="12" y="517" width="828" height="1" fill="#000"/><rect x="840" y="517" width="71" height="1" fill="#222"/>
<rect x="12" y="647" width="899" height="1.4" fill="#111"/>
<rect x="840" y="89" width="1" height="562" fill="#222"/>
<g font-family="'Liberation Sans', sans-serif" font-size="12" fill="#222"><rect x="841" y="117" width="4" height="1" fill="#333"/><text transform="translate(847.3,121.3) scale(0.975,1.05)">66.968</text><rect x="841" y="147" width="4" height="1" fill="#333"/><text transform="translate(847.3,151.3) scale(0.975,1.05)">66.115</text><rect x="841" y="177" width="4" height="1" fill="#333"/><text transform="translate(847.3,181.3) scale(0.975,1.05)">65.262</text><rect x="841" y="207" width="4" height="1" fill="#333"/><text transform="translate(847.3,211.3) scale(0.975,1.05)">64.409</text><rect x="841" y="237" width="4" height="1" fill="#333"/><text transform="translate(847.3,241.3) scale(0.975,1.05)">63.556</text><rect x="841" y="267" width="4" height="1" fill="#333"/><text transform="translate(847.3,271.4) scale(0.975,1.05)">62.702</text><rect x="841" y="297" width="4" height="1" fill="#333"/><text transform="translate(847.3,301.4) scale(0.975,1.05)">61.849</text><rect x="841" y="327" width="4" height="1" fill="#333"/><text transform="translate(847.3,331.4) scale(0.975,1.05)">60.996</text><rect x="841" y="357" width="4" height="1" fill="#333"/><text transform="translate(847.3,361.4) scale(0.975,1.05)">60.143</text><rect x="841" y="387" width="4" height="1" fill="#333"/><text transform="translate(847.3,391.4) scale(0.975,1.05)">59.290</text><rect x="841" y="417" width="4" height="1" fill="#333"/><text transform="translate(847.3,421.4) scale(0.975,1.05)">58.437</text><rect x="841" y="447" width="4" height="1" fill="#333"/><text transform="translate(847.3,451.4) scale(0.975,1.05)">57.584</text><rect x="841" y="477" width="4" height="1" fill="#333"/><text transform="translate(847.3,481.4) scale(0.975,1.05)">56.731</text><rect x="841" y="507" width="4" height="1" fill="#333"/><text transform="translate(847.3,511.4) scale(0.975,1.05)">55.878</text><rect x="841" y="547" width="4" height="1" fill="#333"/><text transform="translate(847.3,551.4) scale(0.975,1.05)">1.171</text><rect x="841" y="577" width="4" height="1" fill="#333"/><text transform="translate(847.3,581.4) scale(0.975,1.05)">0.473</text><rect x="841" y="607" width="4" height="1" fill="#333"/><text transform="translate(847.3,611.4) scale(0.975,1.05)">-0.225</text><rect x="841" y="637" width="4" height="1" fill="#333"/><text transform="translate(847.3,641.4) scale(0.975,1.05)">-0.923</text></g>
<rect x="842" y="361" width="68" height="18" fill="#ef1b0c"/><rect x="842" y="370" width="4" height="1" fill="#fff"/>
<text transform="translate(848,374.8) scale(0.975,1.05)" font-family="'Liberation Sans', sans-serif" font-size="12" fill="#fff" stroke="#fff" stroke-width="0.3">59.770</text>
</svg>
<div class="t r1" style="left:22px"><i>开</i>:<b>59.390</b></div>
<div class="t r1" style="left:93.5px"><i>高</i>:<b>59.960</b></div>
<div class="t r1" style="left:165px"><i>低</i>:<b>59.260</b></div>
<div class="t r1" style="left:236.5px"><i>收</i>:<b>59.770</b></div>
<div class="t r2" style="left:22px;color:#e2588c">MA5: 59.884</div>
<div class="t r2" style="left:114px;color:#45c1d2">MA10: 59.742</div>
<div class="t r2" style="left:213.5px;color:#b377cf">MA20: 60.137</div>
<div class="t r3" style="left:22px;color:#dc3c46">MACD:0.000</div>
<div class="t r3" style="left:107px;color:#5b9bd8;letter-spacing:0.15px">DIFF:0.000</div>
<div class="t r3" style="left:180.5px;color:#e8802f;letter-spacing:0.15px">DEA:0.000</div>
</body></html>
